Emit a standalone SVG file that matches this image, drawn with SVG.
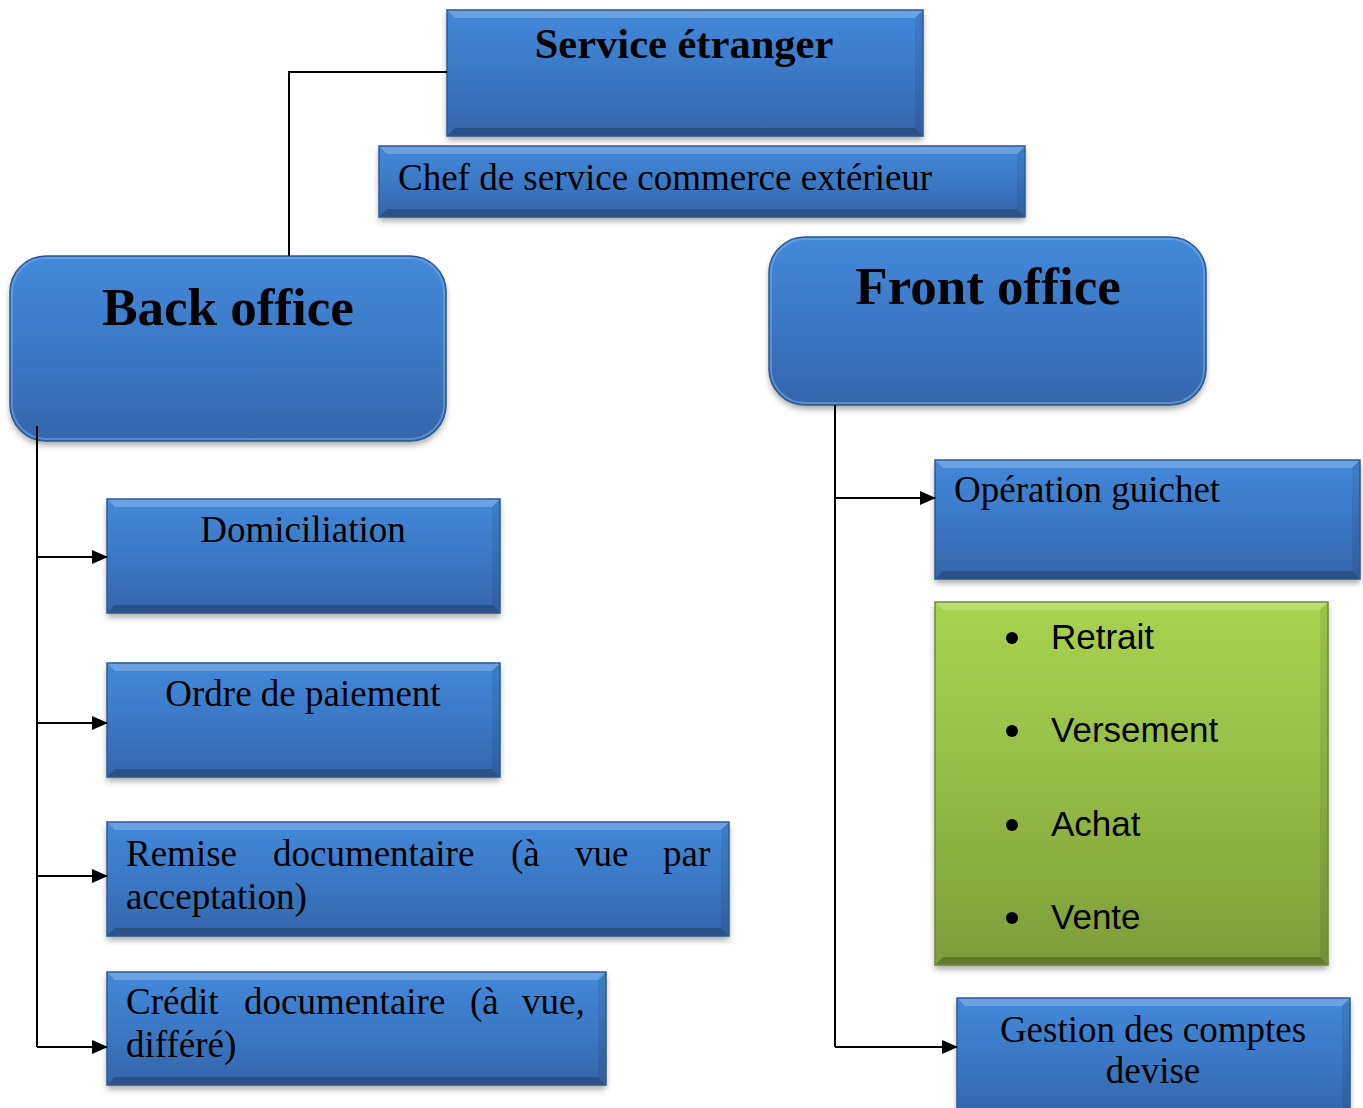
<svg xmlns="http://www.w3.org/2000/svg" width="1363" height="1108" viewBox="0 0 1363 1108">
  <defs>
    <linearGradient id="blueFill" x1="0" y1="0" x2="0" y2="1">
      <stop offset="0" stop-color="#4489da"/>
      <stop offset="0.5" stop-color="#3b78c4"/>
      <stop offset="1" stop-color="#3566aa"/>
    </linearGradient>
    <linearGradient id="greenFill" x1="0" y1="0" x2="0" y2="1">
      <stop offset="0" stop-color="#a9d24e"/>
      <stop offset="0.5" stop-color="#95bb45"/>
      <stop offset="1" stop-color="#7c9c3a"/>
    </linearGradient>
    <filter id="shadow" x="-10%" y="-10%" width="120%" height="130%">
      <feDropShadow dx="0" dy="4" stdDeviation="3" flood-color="#000" flood-opacity="0.35"/>
    </filter>
    <marker id="arrow" markerWidth="16" markerHeight="16" refX="15" refY="8" orient="auto" markerUnits="userSpaceOnUse">
      <path d="M0,1 L16,8 L0,15 Z" fill="#000"/>
    </marker>
  </defs>
  <style>
    .box { fill: url(#blueFill); filter: url(#shadow); }
    .gbox { fill: url(#greenFill); filter: url(#shadow); }
    .hi { fill: #ffffff; opacity: 0.22; }
    .lo { fill: #000000; opacity: 0.22; }
    .side { fill: #000000; opacity: 0.08; }
    .rim { fill: none; stroke: #2d5a94; stroke-width: 1.5; }
    .grim { fill: none; stroke: #6e8c34; stroke-width: 1.5; }
    .title { font-family: "Liberation Serif", "Times New Roman", serif; font-weight: bold; fill: #000; }
    .lbl { font-family: "Liberation Serif", "Times New Roman", serif; font-size: 37px; fill: #000; }
    .item { font-family: "Liberation Sans", Arial, sans-serif; font-size: 35px; fill: #000; }
    .wire { fill: none; stroke: #000; stroke-width: 2; }
  </style>

  <!-- Service étranger -->
  <g id="service-etranger">
    <rect class="box" x="447" y="10" width="476" height="126"/>
    <polygon class="hi" points="447,10 923,10 915,18 455,18"/>
    <polygon class="lo" points="447,136 923,136 915,128 455,128"/>
    <polygon class="side" points="923,10 923,136 915,128 915,18"/>
    <rect class="rim" x="447" y="10" width="476" height="126"/>
    <text class="title" x="684" y="58" font-size="42.5" text-anchor="middle">Service étranger</text>
  </g>

  <!-- Chef de service -->
  <g id="chef-service">
    <rect class="box" x="379" y="146" width="646" height="71"/>
    <polygon class="hi" points="379,146 1025,146 1017,154 387,154"/>
    <polygon class="lo" points="379,217 1025,217 1017,209 387,209"/>
    <polygon class="side" points="1025,146 1025,217 1017,209 1017,154"/>
    <rect class="rim" x="379" y="146" width="646" height="71"/>
    <text class="lbl" x="398" y="190">Chef de service commerce extérieur</text>
  </g>

  <!-- Back office -->
  <g id="back-office">
    <rect class="box" x="10" y="256" width="436" height="185" rx="36"/>
    <rect x="12" y="258" width="432" height="181" rx="34" fill="none" stroke="#7fb2ee" stroke-width="2" opacity="0.5"/>
    <rect x="10" y="256" width="436" height="185" rx="36" fill="none" stroke="#2d5a94" stroke-width="1.5"/>
    <text class="title" x="228" y="325" font-size="53" text-anchor="middle">Back office</text>
  </g>

  <!-- Front office -->
  <g id="front-office">
    <rect class="box" x="769" y="237" width="437" height="168" rx="36"/>
    <rect x="771" y="239" width="433" height="164" rx="34" fill="none" stroke="#7fb2ee" stroke-width="2" opacity="0.5"/>
    <rect x="769" y="237" width="437" height="168" rx="36" fill="none" stroke="#2d5a94" stroke-width="1.5"/>
    <text class="title" x="988" y="304" font-size="53" text-anchor="middle">Front office</text>
  </g>

  <!-- Domiciliation -->
  <g id="domiciliation">
    <rect class="box" x="107" y="499" width="393" height="114"/>
    <polygon class="hi" points="107,499 500,499 492,507 115,507"/>
    <polygon class="lo" points="107,613 500,613 492,605 115,605"/>
    <polygon class="side" points="500,499 500,613 492,605 492,507"/>
    <rect class="rim" x="107" y="499" width="393" height="114"/>
    <text class="lbl" x="303" y="542" text-anchor="middle">Domiciliation</text>
  </g>

  <!-- Ordre de paiement -->
  <g id="ordre-paiement">
    <rect class="box" x="107" y="663" width="393" height="114"/>
    <polygon class="hi" points="107,663 500,663 492,671 115,671"/>
    <polygon class="lo" points="107,777 500,777 492,769 115,769"/>
    <polygon class="side" points="500,663 500,777 492,769 492,671"/>
    <rect class="rim" x="107" y="663" width="393" height="114"/>
    <text class="lbl" x="303" y="706" text-anchor="middle">Ordre de paiement</text>
  </g>

  <!-- Remise documentaire -->
  <g id="remise-documentaire">
    <rect class="box" x="107" y="822" width="622" height="114"/>
    <polygon class="hi" points="107,822 729,822 721,830 115,830"/>
    <polygon class="lo" points="107,936 729,936 721,928 115,928"/>
    <polygon class="side" points="729,822 729,936 721,928 721,830"/>
    <rect class="rim" x="107" y="822" width="622" height="114"/>
    <text class="lbl" y="866"><tspan x="126">Remise</tspan><tspan x="273">documentaire</tspan><tspan x="511">(à</tspan><tspan x="575">vue</tspan><tspan x="663">par</tspan></text>
    <text class="lbl" x="126" y="909">acceptation)</text>
  </g>

  <!-- Crédit documentaire -->
  <g id="credit-documentaire">
    <rect class="box" x="107" y="972" width="499" height="113"/>
    <polygon class="hi" points="107,972 606,972 598,980 115,980"/>
    <polygon class="lo" points="107,1085 606,1085 598,1077 115,1077"/>
    <polygon class="side" points="606,972 606,1085 598,1077 598,980"/>
    <rect class="rim" x="107" y="972" width="499" height="113"/>
    <text class="lbl" y="1014"><tspan x="126">Crédit</tspan><tspan x="244">documentaire</tspan><tspan x="470">(à</tspan><tspan x="522">vue,</tspan></text>
    <text class="lbl" x="126" y="1057">différé)</text>
  </g>

  <!-- Opération guichet -->
  <g id="operation-guichet">
    <rect class="box" x="935" y="460" width="425" height="119"/>
    <polygon class="hi" points="935,460 1360,460 1352,468 943,468"/>
    <polygon class="lo" points="935,579 1360,579 1352,571 943,571"/>
    <polygon class="side" points="1360,460 1360,579 1352,571 1352,468"/>
    <rect class="rim" x="935" y="460" width="425" height="119"/>
    <text class="lbl" x="954" y="502">Opération guichet</text>
  </g>

  <!-- Opérations de guichet (liste) -->
  <g id="operations-liste">
    <rect class="gbox" x="935" y="602" width="393" height="363"/>
    <polygon class="hi" points="935,602 1328,602 1320,610 943,610"/>
    <polygon class="lo" points="935,965 1328,965 1320,957 943,957"/>
    <polygon class="side" points="1328,602 1328,965 1320,957 1320,610"/>
    <rect class="grim" x="935" y="602" width="393" height="363"/>
    <circle cx="1012" cy="638" r="6"/>
    <text class="item" x="1051" y="649">Retrait</text>
    <circle cx="1012" cy="731" r="6"/>
    <text class="item" x="1051" y="742">Versement</text>
    <circle cx="1012" cy="825" r="6"/>
    <text class="item" x="1051" y="836">Achat</text>
    <circle cx="1012" cy="918" r="6"/>
    <text class="item" x="1051" y="929">Vente</text>
  </g>

  <!-- Gestion des comptes devise -->
  <g id="gestion-comptes">
    <rect class="box" x="957" y="998" width="393" height="116"/>
    <polygon class="hi" points="957,998 1350,998 1342,1006 965,1006"/>
    <polygon class="side" points="1350,998 1350,1114 1342,1106 1342,1006"/>
    <rect class="rim" x="957" y="998" width="393" height="116"/>
    <text class="lbl" x="1153" y="1042" text-anchor="middle">Gestion des comptes</text>
    <text class="lbl" x="1153" y="1083" text-anchor="middle">devise</text>
  </g>

  <!-- connectors (drawn last so the spine shows over the box edge) -->
  <g id="connectors">
    <polyline class="wire" points="447,72 289,72 289,256"/>
    <line class="wire" x1="37" y1="426" x2="37" y2="1047"/>
    <line class="wire" x1="37" y1="557" x2="107" y2="557" marker-end="url(#arrow)"/>
    <line class="wire" x1="37" y1="723" x2="107" y2="723" marker-end="url(#arrow)"/>
    <line class="wire" x1="37" y1="876" x2="107" y2="876" marker-end="url(#arrow)"/>
    <line class="wire" x1="37" y1="1047" x2="107" y2="1047" marker-end="url(#arrow)"/>
    <line class="wire" x1="835" y1="405" x2="835" y2="1047"/>
    <line class="wire" x1="835" y1="498" x2="935" y2="498" marker-end="url(#arrow)"/>
    <line class="wire" x1="835" y1="1047" x2="957" y2="1047" marker-end="url(#arrow)"/>
  </g>
</svg>
